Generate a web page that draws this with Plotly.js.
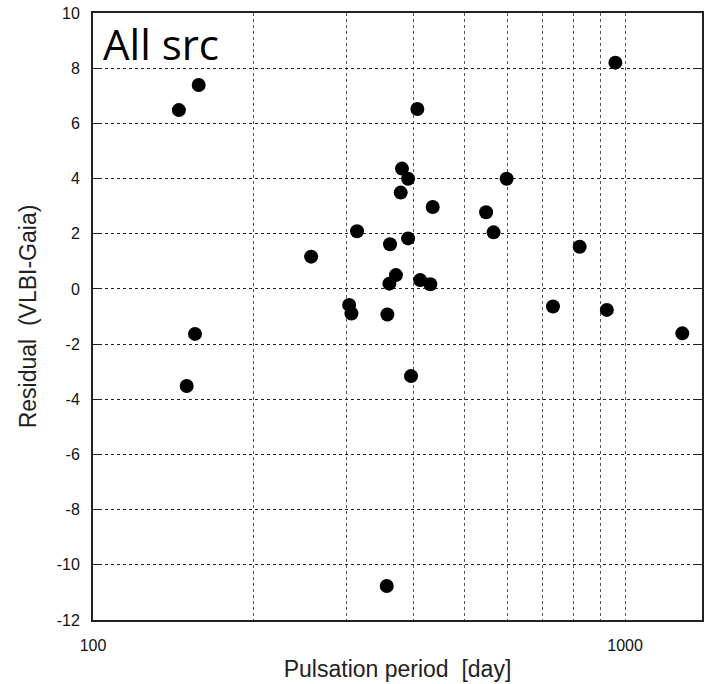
<!DOCTYPE html>
<html>
<head>
<meta charset="utf-8">
<script src="https://cdn.plot.ly/plotly-3.0.1.min.js"></script>
<style>html,body{margin:0;padding:0;background:#fff;}#chart{width:709px;height:684px;}</style>
</head>
<body>
<div id="chart"></div>
<script>
// Pulsation period [day]
const periods = [145, 158, 150, 155.5, 257, 313.5, 303, 306, 357.5, 361.6, 360.6, 371,
  380.8, 391, 378.7, 407, 435, 391, 412, 430.5, 548, 566, 599, 959, 821.6, 732, 924,
  1281, 396, 356.5];
// Residual (VLBI-Gaia)
const residuals = [6.48, 7.39, -3.52, -1.63, 1.17, 2.09, -0.58, -0.89, -0.93, 1.62, 0.19, 0.50,
  4.36, 3.99, 3.49, 6.52, 2.97, 1.83, 0.32, 0.17, 2.78, 2.05, 3.99, 8.20, 1.53, -0.64, -0.76,
  -1.61, -3.16, -10.77];
const xTickVals = [100, 200, 300, 400, 500, 600, 700, 800, 900, 1000];
const xTickText = ['100', '', '', '', '', '', '', '', '', '1000'];
const yTickVals = [10, 8, 6, 4, 2, 0, -2, -4, -6, -8, -10, -12];
const yTickText = ['10', '8', '6', '4', '2', '0', '-2', '-4', '-6', '-8', '-10', '-12'];

const trace = {
  x: periods, y: residuals, type: 'scatter', mode: 'markers',
  marker: {color: '#000', size: 14},
  hoverinfo: 'skip'
};
const layout = {
  width: 709, height: 684,
  margin: {l: 93, r: 7, t: 13, b: 64},
  paper_bgcolor: '#fff', plot_bgcolor: '#fff',
  showlegend: false,
  font: {family: 'Liberation Sans, Arial, sans-serif', color: '#000'},
  xaxis: {
    type: 'log', range: [2, Math.log10(1395)],
    tickvals: xTickVals, ticktext: xTickText,
    showgrid: true, gridcolor: '#555', griddash: '3px,3px', gridwidth: 1,
    ticks: '', showline: true, linecolor: '#222', linewidth: 2, mirror: true,
    zeroline: false, tickfont: {size: 16, color: '#111'}, ticklabelstandoff: 10,
    title: {text: 'Pulsation period  [day]', font: {size: 23, color: '#222'}, standoff: 8}
  },
  yaxis: {
    range: [-12, 10], tickvals: yTickVals, ticktext: yTickText,
    showgrid: true, gridcolor: '#222', griddash: '3px,3px', gridwidth: 1,
    ticks: 'inside', ticklen: 6, tickcolor: '#222', tickwidth: 1,
    showline: true, linecolor: '#222', linewidth: 2, mirror: 'allticks',
    zeroline: false, tickfont: {size: 16, color: '#111'}, ticklabelstandoff: 8,
    title: {text: 'Residual  (VLBI-Gaia)', font: {size: 23, color: '#222'}, standoff: 14}
  },
  annotations: [{
    text: 'All src', xref: 'paper', yref: 'paper', x: 0.013, y: 1.0,
    xanchor: 'left', yanchor: 'top', showarrow: false,
    font: {size: 42, family: 'Open Sans, Liberation Sans, sans-serif', color: '#000'}
  }]
};
Plotly.newPlot('chart', [trace], layout, {displayModeBar: false, staticPlot: true});
</script>
</body>
</html>
